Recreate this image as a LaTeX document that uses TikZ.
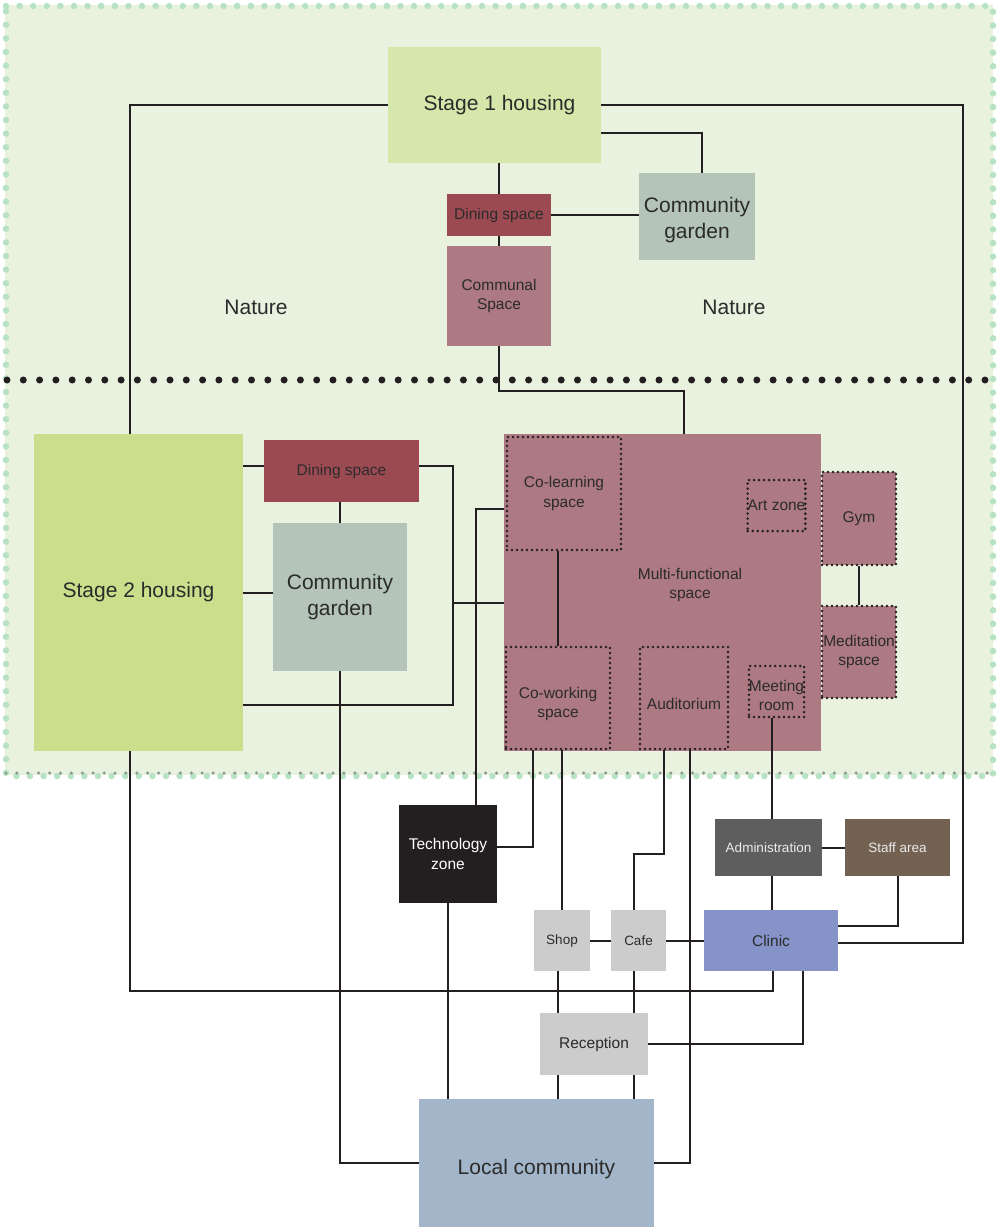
\documentclass[tikz,border=0pt]{standalone}
\usepackage{fontspec}
\setmainfont{Liberation Sans}
\usepackage{xcolor}

\definecolor{bggreen}{HTML}{E8F2DF}
\definecolor{dotgreen}{HTML}{B8E2C4}
\definecolor{dotgray}{HTML}{8E9C90}
\definecolor{houseone}{HTML}{D5E7AB}
\definecolor{housetwo}{HTML}{C9DF8C}
\definecolor{dining}{HTML}{9C4A52}
\definecolor{communal}{HTML}{AD7983}
\definecolor{garden}{HTML}{B4C4B8}
\definecolor{techzone}{HTML}{231F20}
\definecolor{admin}{HTML}{5E5E5E}
\definecolor{staff}{HTML}{736151}
\definecolor{service}{HTML}{CCCCCC}
\definecolor{clinic}{HTML}{8593C8}
\definecolor{localc}{HTML}{A2B5C9}
\definecolor{lk}{HTML}{231F20}
\definecolor{txt}{HTML}{2B2B2B}

\begin{document}
\begin{tikzpicture}[x=1pt, y=-1pt,
  box/.style={rectangle, inner sep=0pt, align=center, text=txt},
  big/.style={font=\fontsize{21}{26}\selectfont},
  mid/.style={font=\fontsize{15.5}{19.5}\selectfont},
  small/.style={font=\fontsize{13.5}{16}\selectfont},
  sub/.style={box, mid, fill=communal, draw=lk, line width=2.8pt, line cap=round, dash pattern=on 0pt off 5pt},
  link/.style={draw=lk, line width=2pt}]

  \useasboundingbox (0,0) rectangle (996,1230);

  % nature area and the divider
  \fill[bggreen] (5,5) rectangle (993,775);
  \draw[dotgreen, line width=6.5pt, line cap=round, dash pattern=on 0pt off 13.6pt] (6,6) -- (993,6) -- (993,776) -- (6,776) -- cycle;
  \draw[dotgray, line width=3.5pt, line cap=round, dash pattern=on 0pt off 10.9pt] (6,773) -- (993,773);
  \draw[lk, line width=7pt, line cap=round, dash pattern=on 0pt off 16.3pt] (7,380) -- (996,380);
  \node[box, big] (nature1) at (256,307) {Nature};
  \node[box, big] (nature2) at (734,307) {Nature};

  % rooms
  \node[box, big, fill=houseone, minimum width=213, minimum height=116] (s1) at (494.5,105) {\hspace*{10pt}Stage 1 housing};
  \node[box, mid, fill=dining, minimum width=104, minimum height=42] (dine1) at (499,215) {Dining space};
  \node[box, mid, fill=communal, minimum width=104, minimum height=100] (comm1) at (499,296) {Communal\\Space};
  \node[box, big, fill=garden, minimum width=116, minimum height=87] (garden1) at (697,216.5) {\\[-3pt]Community\\garden};

  \node[box, big, fill=housetwo, minimum width=209, minimum height=317] (s2) at (138.5,592.5) {Stage 2 housing};
  \node[box, mid, fill=dining, minimum width=155, minimum height=62] (dine2) at (341.5,471) {Dining space};
  \node[box, big, fill=garden, minimum width=134, minimum height=148] (garden2) at (340,597) {Community\\garden};

  \node[box, mid, fill=communal, minimum width=317, minimum height=317] (multi) at (662.5,592.5) {};
  \node[box, mid] (multilbl) at (690,585) {Multi-functional\\space};
  \node[sub, minimum width=114, minimum height=113] (colearn) at (564,493.5) {Co-learning\\space};
  \node[sub, minimum width=53, minimum height=51] (artzone) at (776.5,505.5) {Art zone};
  \node[sub, minimum width=104, minimum height=102] (cowork) at (558,698) {\\[4pt]Co-working\\space};
  \node[sub, minimum width=88, minimum height=102] (audit) at (684,698) {\\[4pt]Auditorium};
  \node[sub, minimum width=53, minimum height=51] (meeting) at (776.5,691.5) {\\[0pt]Meeting\\room};
  \node[sub, minimum width=74, minimum height=93] (gym) at (859,518.5) {Gym};
  \node[sub, minimum width=74, minimum height=92] (medit) at (859,652) {Meditation\\space};

  \node[box, mid, fill=techzone, text=white, minimum width=98, minimum height=98] (tech) at (448,854) {Technology\\zone};
  \node[box, small, fill=admin, text=white!92!black, minimum width=107, minimum height=57] (admin) at (768.5,847.5) {Administration};
  \node[box, small, fill=staff, text=white!92!black, minimum width=105, minimum height=57] (staff) at (897.5,847.5) {Staff area};
  \node[box, small, fill=service, minimum width=56, minimum height=61] (shop) at (562,940.5) {Shop};
  \node[box, small, fill=service, minimum width=55, minimum height=61] (cafe) at (638.5,940.5) {Cafe};
  \node[box, mid, fill=clinic, minimum width=134, minimum height=61] (clinic) at (771,940.5) {Clinic};
  \node[box, mid, fill=service, minimum width=108, minimum height=62] (recep) at (594,1044) {Reception};
  \node[box, big, fill=localc, minimum width=235, minimum height=128] (local) at (536.5,1163) {\\[2pt]Local community};

  % top cluster
  \draw[link] (s1.west) -| ([xshift=-8.5]s2.north);
  \draw[link] ([xshift=-8.5]s2.south) -- ++(0,240) -| ([xshift=2]clinic.south);
  \draw[link] (s1.east) -- ++(362,0) |- ([yshift=-2.5]clinic.east);
  \draw[link] ([yshift=-28]s1.east) -| ([xshift=5]garden1.north);
  \draw[link] (dine1.north |- s1.south) -- (dine1.north);
  \draw[link] (dine1.south) -- (comm1.north);
  \draw[link] (dine1.east) -- (dine1.east -| garden1.west);
  \draw[link] (comm1.south) -- ++(0,45) -| ([xshift=21.5]multi.north);

  % stage 2 cluster
  \draw[link] ([yshift=5]dine2.west -| s2.east) -- ([yshift=5]dine2.west);
  \draw[link] ([yshift=5]dine2.east) -- ++(34,0) |- ([yshift=-112.5]s2.east);
  \draw[link] (s2.east) -- (s2.east -| garden2.west);
  \draw[link] (garden2.north |- dine2.south) -- (garden2.north);
  \draw[link] ([yshift=-10.5]multi.west) -- ++(-51,0);
  \draw[link] ([yshift=83.5]multi.west) -| ([xshift=28]tech.north);
  \draw[link] (garden2.south) |- (local.west);

  % inside the multi-functional space
  \draw[link] (cowork.north |- colearn.south) -- (cowork.north);
  \draw[link] (gym.south) -- (medit.north);
  \draw[link] ([xshift=-25]cowork.south) |- ([yshift=7]tech.east);
  \draw[link] (shop.north |- cowork.south) -- (shop.north);
  \draw[link] ([xshift=-20]audit.south) -- ++(0,104) -| ([xshift=-4.5]cafe.north);
  \draw[link] ([xshift=6]audit.south) |- (local.east);
  \draw[link] ([xshift=-4.5]meeting.south) -- ([xshift=-4.5]meeting.south |- admin.north);

  % services
  \draw[link] (admin.east) -- (staff.west);
  \draw[link] ([xshift=1]clinic.north |- admin.south) -- ([xshift=1]clinic.north);
  \draw[link] (staff.south) |- ([yshift=14.5]clinic.east);
  \draw[link] (shop.east) -- (cafe.west);
  \draw[link] (cafe.east) -- (clinic.west);
  \draw[link] ([xshift=-4]shop.south) -- ([xshift=-4]shop.south |- recep.north);
  \draw[link] ([xshift=-4.5]cafe.south) -- ([xshift=-4.5]cafe.south |- recep.north);
  \draw[link] (recep.east) -| ([xshift=32]clinic.south);
  \draw[link] ([xshift=-36]recep.south) -- ([xshift=-36]recep.south |- local.north);
  \draw[link] ([xshift=40]recep.south) -- ([xshift=40]recep.south |- local.north);
  \draw[link] (tech.south) -- (tech.south |- local.north);
\end{tikzpicture}
\end{document}
